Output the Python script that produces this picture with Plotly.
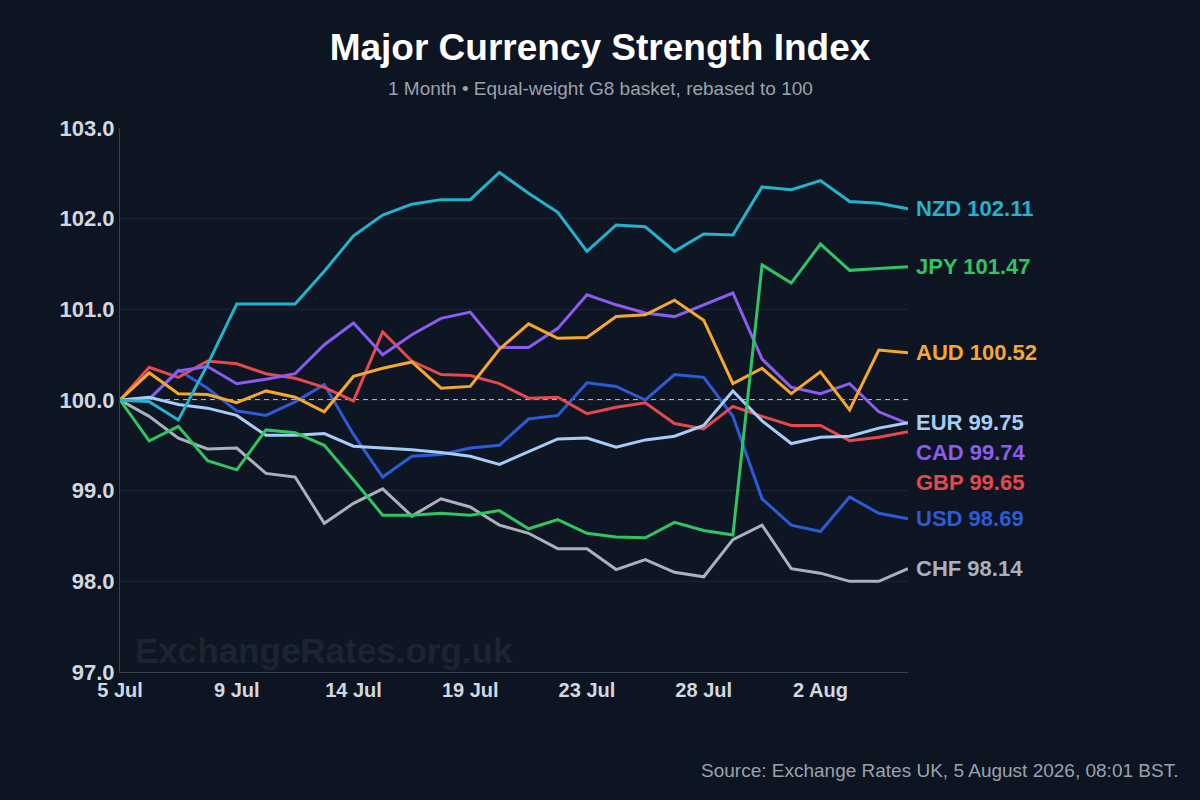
import plotly.graph_objects as go

# ---------------- data ----------------
tick_idx = [0, 4, 8, 12, 16, 20, 24]
tick_labels = ["5 Jul", "9 Jul", "14 Jul", "19 Jul", "23 Jul", "28 Jul", "2 Aug"]
n_points = 28
x_idx = list(range(n_points))

NZD = [100, 99.98, 99.78, 100.39, 101.06, 101.06, 101.06, 101.42, 101.81, 102.04, 102.16, 102.21, 102.21, 102.51,
       102.28, 102.07, 101.64, 101.93, 101.91, 101.64, 101.83, 101.82, 102.35, 102.32, 102.42, 102.19, 102.17, 102.11]
JPY = [100, 99.55, 99.71, 99.33, 99.23, 99.67, 99.64, 99.50, 99.12, 98.73, 98.73, 98.75, 98.73, 98.78,
       98.58, 98.68, 98.53, 98.49, 98.48, 98.65, 98.56, 98.51, 101.49, 101.29, 101.72, 101.43, 101.45, 101.47]
AUD = [100, 100.30, 100.07, 100.06, 99.97, 100.10, 100.03, 99.87, 100.26, 100.35, 100.42, 100.13, 100.15, 100.56,
       100.84, 100.68, 100.69, 100.92, 100.94, 101.10, 100.88, 100.18, 100.35, 100.07, 100.31, 99.89, 100.55, 100.52]
EUR = [100, 100.03, 99.95, 99.91, 99.83, 99.61, 99.61, 99.63, 99.49, 99.47, 99.45, 99.42, 99.38, 99.29,
       99.43, 99.57, 99.58, 99.48, 99.56, 99.60, 99.72, 100.10, 99.77, 99.52, 99.59, 99.60, 99.69, 99.75]
CAD = [100, 100.01, 100.32, 100.37, 100.18, 100.23, 100.29, 100.61, 100.85, 100.50, 100.72, 100.90, 100.97, 100.58,
       100.58, 100.79, 101.16, 101.05, 100.96, 100.92, 101.05, 101.18, 100.45, 100.14, 100.07, 100.18, 99.87, 99.74]
GBP = [100, 100.36, 100.25, 100.43, 100.40, 100.29, 100.24, 100.14, 99.99, 100.75, 100.43, 100.28, 100.27, 100.18,
       100.02, 100.03, 99.85, 99.92, 99.97, 99.74, 99.68, 99.93, 99.82, 99.72, 99.72, 99.55, 99.59, 99.65]
USD = [100, 100.01, 100.33, 100.13, 99.88, 99.83, 99.98, 100.17, 99.62, 99.15, 99.38, 99.40, 99.47, 99.50,
       99.79, 99.83, 100.19, 100.15, 100.00, 100.28, 100.25, 99.82, 98.91, 98.62, 98.55, 98.93, 98.75, 98.69]
CHF = [100, 99.82, 99.58, 99.46, 99.47, 99.19, 99.15, 98.64, 98.86, 99.02, 98.72, 98.91, 98.82, 98.62,
       98.53, 98.36, 98.36, 98.13, 98.24, 98.10, 98.05, 98.46, 98.62, 98.14, 98.09, 98.00, 98.00, 98.14]

currencies = ["NZD", "JPY", "AUD", "EUR", "CAD", "GBP", "USD", "CHF"]
series = {"NZD": NZD, "JPY": JPY, "AUD": AUD, "EUR": EUR, "CAD": CAD, "GBP": GBP, "USD": USD, "CHF": CHF}
last_values = {"NZD": 102.11, "JPY": 101.47, "AUD": 100.52, "EUR": 99.75, "CAD": 99.74,
               "GBP": 99.65, "USD": 98.69, "CHF": 98.14}
colors = {"NZD": "#22b3cf", "JPY": "#2fc563", "AUD": "#f5a82c", "EUR": "#a6cdf7", "CAD": "#8b5cf0",
          "GBP": "#e5484d", "USD": "#2d5bd6", "CHF": "#a9b1bd"}

y_ticks = [97, 98, 99, 100, 101, 102, 103]

# ---------------- style ----------------
BG = "#0d1422"
PLOT_BG = "#0e1624"
GRID = "#1c2432"
AXIS = "#3a4352"
TICK_FONT = "#d3d8e0"
FONT = "Liberation Sans, Arial, sans-serif"

fig = go.Figure()

draw_order = ["CHF", "USD", "GBP", "CAD", "EUR", "AUD", "JPY", "NZD"]
for c in draw_order:
    fig.add_trace(go.Scatter(
        x=x_idx, y=series[c], mode="lines", name=c,
        line=dict(color=colors[c], width=3),
        hoverinfo="skip", showlegend=False,
    ))

# label positions with simple collision avoidance
gap = 0.33
ordered = sorted(currencies, key=lambda c: -series[c][-1])
label_y = {}
prev = None
for c in ordered:
    yv = series[c][-1]
    if prev is not None and yv > prev - gap:
        yv = prev - gap
    label_y[c] = yv
    prev = yv

shapes = []
annotations = []
for c in currencies:
    y_end = series[c][-1]
    ly = label_y[c]
    shapes.append(dict(
        type="line", xref="x", yref="y", xsizemode="pixel", xanchor=n_points - 1,
        x0=0, x1=6, y0=y_end, y1=ly,
        line=dict(color=colors[c], width=1, dash="dot" if abs(ly - y_end) < 1e-9 else "solid"),
        layer="above",
    ))
    annotations.append(dict(
        x=n_points - 1, y=ly, xref="x", yref="y", xanchor="left", yanchor="middle",
        xshift=6, showarrow=False,
        text=f"{c} {last_values[c]:.2f}",
        font=dict(family=FONT, size=22, color=colors[c], weight="bold"),
    ))

# baseline at 100
shapes.append(dict(type="line", xref="paper", yref="y", x0=0, x1=1, y0=100, y1=100,
                   line=dict(color="#aab2be", width=1.8, dash="5px,4px"), layer="below"))

# subtitle, watermark, footer
annotations.append(dict(
    xref="paper", yref="paper", x=(600 - 120) / 788, y=(672 - 88) / 544,
    xanchor="center", yanchor="middle", showarrow=False,
    text="1 Month • Equal-weight G8 basket, rebased to 100",
    font=dict(family=FONT, size=19, color="#9aa2ae"),
))
annotations.append(dict(
    xref="paper", yref="paper", x=(133 - 120) / 788, y=(672 - 650) / 544,
    xanchor="left", yanchor="middle", showarrow=False,
    text="ExchangeRates.org.uk",
    font=dict(family=FONT, size=35, color="rgba(255,255,255,0.07)", weight="bold"),
))
annotations.append(dict(
    xref="paper", yref="paper", x=(1180 - 120) / 788, y=(672 - 770) / 544,
    xanchor="right", yanchor="middle", showarrow=False,
    text="Source: Exchange Rates UK, 5 August 2026, 08:01 BST.",
    font=dict(family=FONT, size=19, color="#9aa2ae"),
))

fig.update_layout(
    width=1200, height=800,
    paper_bgcolor=BG, plot_bgcolor=PLOT_BG,
    margin=dict(l=120, r=292, t=128, b=128),
    title=dict(text="Major Currency Strength Index", x=0.5, xanchor="center",
               y=1 - 47 / 800, yanchor="middle",
               font=dict(family=FONT, size=37, color="#ffffff", weight="bold")),
    xaxis=dict(range=[0, n_points - 1], tickvals=tick_idx, ticktext=tick_labels,
               showgrid=False, zeroline=False, showline=True, linecolor=AXIS, linewidth=1,
               ticks="", tickfont=dict(family=FONT, size=20, color=TICK_FONT, weight="bold"),
               fixedrange=True),
    yaxis=dict(range=[97, 103], tickvals=y_ticks, tickformat=".1f",
               showgrid=True, gridcolor=GRID, gridwidth=1, zeroline=False,
               showline=True, linecolor=AXIS, linewidth=1, ticks="",
               tickfont=dict(family=FONT, size=22, color=TICK_FONT, weight="bold"), fixedrange=True),
    shapes=shapes,
    annotations=annotations,
    showlegend=False,
)

fig.write_html("out.html", config={"displayModeBar": False},
               post_script="document.body.style.margin='0';document.body.style.background='" + BG + "';")
